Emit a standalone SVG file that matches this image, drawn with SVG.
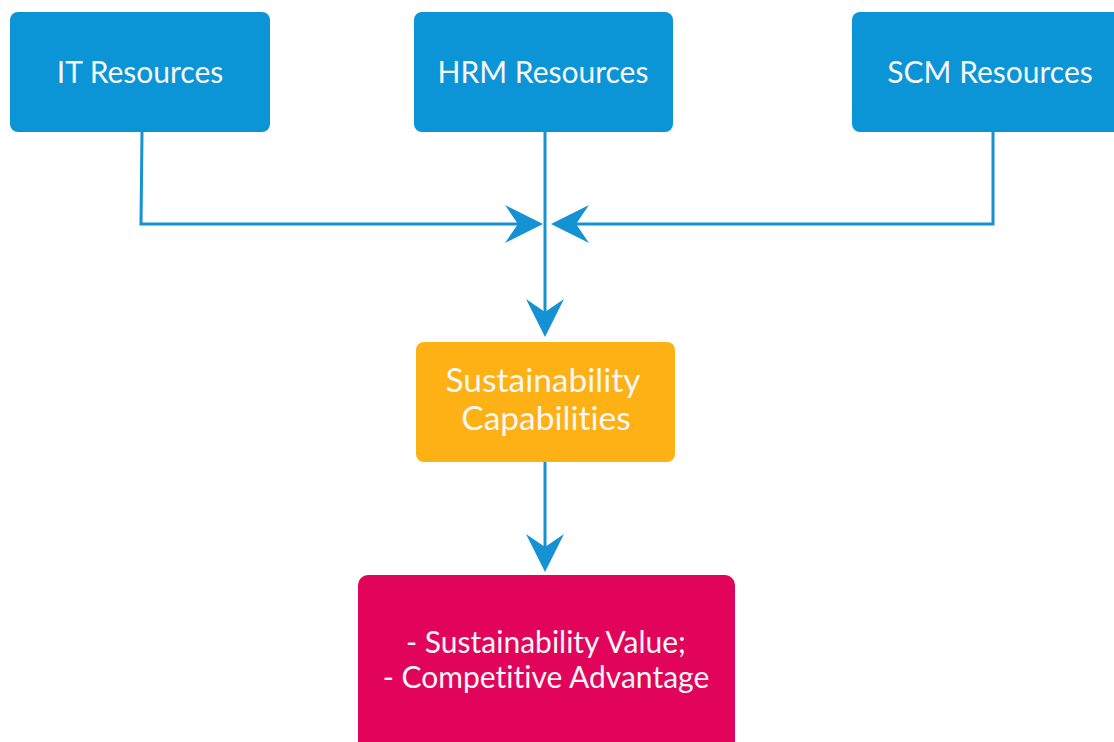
<svg xmlns="http://www.w3.org/2000/svg" width="1114" height="742" viewBox="0 0 1114 742">
  <style>
    .box-blue { fill: #0B95D7; }
    .box-orange { fill: #FDB115; }
    .box-red { fill: #E1045A; }
    .label { font-family: Lato, "Open Sans", "Liberation Sans", sans-serif; font-size: 30px; fill: #F7F7F7; text-anchor: middle; font-variant-ligatures: none; }
    .label-lg { font-size: 33.5px; }
    .wire { fill: none; stroke: #1592D4; stroke-width: 3; }
  </style>
  <defs>
    <marker id="arrow" markerUnits="userSpaceOnUse" viewBox="0 0 38 40" refX="31" refY="20" markerWidth="38" markerHeight="40" orient="auto">
      <path d="M0,1 L38,20 L0,39 L13,20 Z" fill="#1592D4"/>
    </marker>
  </defs>

  <rect width="1114" height="742" fill="#FFFFFF"/>

  <g id="connectors">
    <path class="wire" d="M142,132 L141,224 L536,224" marker-end="url(#arrow)"/>
    <path class="wire" d="M993,132 L993,224 L558,224" marker-end="url(#arrow)"/>
    <path class="wire" d="M545,132 L545,330" marker-end="url(#arrow)"/>
    <path class="wire" d="M545,462 L545,565" marker-end="url(#arrow)"/>
  </g>

  <g id="it-resources">
    <rect class="box-blue" x="10" y="12" width="260" height="120" rx="8"/>
    <text class="label" x="140" y="83">IT Resources</text>
  </g>

  <g id="hrm-resources">
    <rect class="box-blue" x="414" y="12" width="259" height="120" rx="8"/>
    <text class="label" x="543" y="83">HRM Resources</text>
  </g>

  <g id="scm-resources">
    <rect class="box-blue" x="852" y="12" width="272" height="120" rx="8"/>
    <text class="label" x="990" y="83">SCM Resources</text>
  </g>

  <g id="sustainability-capabilities">
    <rect class="box-orange" x="416" y="342" width="259" height="120" rx="8"/>
    <text class="label label-lg" x="543" y="392">Sustainability</text>
    <text class="label label-lg" x="546" y="430">Capabilities</text>
  </g>

  <g id="value-advantage">
    <rect class="box-red" x="358" y="575" width="377" height="180" rx="10"/>
    <text class="label" x="546" y="653">- Sustainability Value;</text>
    <text class="label" x="546" y="688">- Competitive Advantage</text>
  </g>
</svg>
